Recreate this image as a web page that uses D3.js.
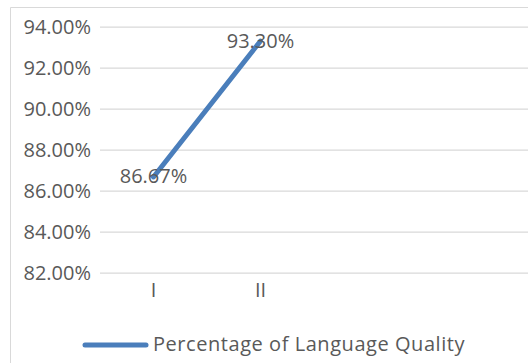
<!DOCTYPE html>
<html>
<head>
<meta charset="utf-8">
<script src="https://cdn.jsdelivr.net/npm/d3@7"></script>
<style>
  html, body { margin: 0; padding: 0; background: #fff; }
  svg { display: block; }
  text { font-family: "Open Sans", sans-serif; fill: #595959; }
</style>
</head>
<body>
<svg id="chart" width="528" height="363"></svg>
<script>
const categories = ["I", "II"];
const values = [86.67, 93.30];
const valueLabels = ["86.67%", "93.30%"];
const yTicks = [82, 84, 86, 88, 90, 92, 94];
const seriesName = "Percentage of Language Quality";

const svg = d3.select("#chart");
const W = 528, H = 363;
const plot = { left: 100, top: 26.7, bottom: 272.7, right: 540 };
const step = 107;

// chart frame (cropped on the right and bottom)
svg.append("path")
  .attr("d", `M10.5,${H + 5} V7.5 H${W + 5}`)
  .attr("fill", "none").attr("stroke", "#d9d9d9").attr("stroke-width", 1);

const x = d3.scaleBand().domain(categories).range([plot.left, plot.left + step * categories.length]);
const y = d3.scaleLinear().domain([82, 94]).range([plot.bottom, plot.top]);

// gridlines + y labels
const yAxis = d3.axisLeft(y).tickValues(yTicks)
  .tickSize(-(plot.right - plot.left)).tickPadding(9)
  .tickFormat(d => d.toFixed(2) + "%");
const gy = svg.append("g").attr("transform", `translate(${plot.left},0)`).call(yAxis);
gy.select(".domain").remove();
gy.selectAll(".tick line").attr("stroke", "#d9d9d9").attr("stroke-width", 1.3);
gy.selectAll(".tick text").style("font-size", "20px").attr("fill", "#595959")
  .style("font-family", "'Open Sans', sans-serif");

// x labels
const xAxis = d3.axisBottom(x).tickSize(0).tickPadding(10);
const gx = svg.append("g").attr("transform", `translate(0,${plot.bottom})`).call(xAxis);
gx.select(".domain").remove();
gx.selectAll(".tick text").style("font-size", "20px").attr("fill", "#595959")
  .style("font-family", "'Open Sans', sans-serif");

// line
const pts = categories.map((c, i) => [x(c) + x.bandwidth() / 2, y(values[i])]);
svg.append("path")
  .attr("d", d3.line()(pts))
  .attr("fill", "none").attr("stroke", "#4a7ebb").attr("stroke-width", 5)
  .attr("stroke-linecap", "round").attr("stroke-linejoin", "round");

// data labels (centered on points, drawn above the line)
svg.selectAll("text.dl").data(pts).enter().append("text")
  .attr("class", "dl")
  .attr("x", d => d[0]).attr("y", d => d[1] - 1)
  .attr("text-anchor", "middle").attr("dominant-baseline", "central")
  .style("font-size", "20px")
  .text((d, i) => valueLabels[i]);

// legend
const lg = svg.append("g");
lg.append("line").attr("x1", 85).attr("x2", 146).attr("y1", 345).attr("y2", 345)
  .attr("stroke", "#4a7ebb").attr("stroke-width", 5).attr("stroke-linecap", "round");
lg.append("text").attr("x", 153).attr("y", 343).attr("dominant-baseline", "central")
  .style("font-size", "20px").style("letter-spacing", "0.55px").text(seriesName);
</script>
</body>
</html>
